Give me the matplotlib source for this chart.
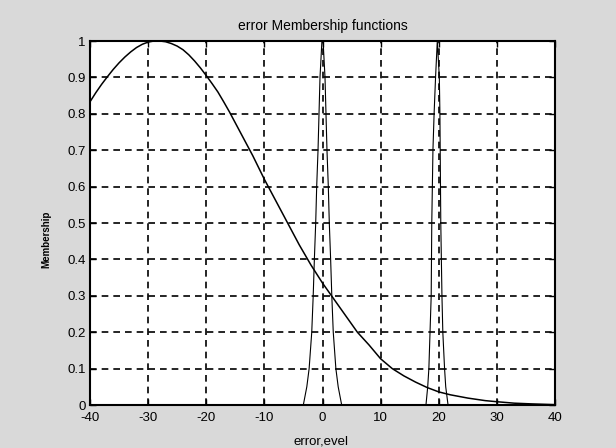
import matplotlib
matplotlib.use("Agg")
import matplotlib.pyplot as plt

plt.rcParams['font.family'] = ['Liberation Sans', 'DejaVu Sans']

# Wide membership function
wide_x = [-40, -39, -38, -37, -36, -35, -34, -33, -32, -31, -30, -29, -28, -27, -26,
          -25, -24, -23, -22, -21, -20, -19, -18, -17, -16, -14, -12,
          -10, -8, -6, -4, -2, 0, 2, 4, 6, 8, 10, 12, 14, 16, 18, 20, 22, 25, 28,
          30, 33, 36, 40]
wide_y = [0.833, 0.858, 0.881, 0.902, 0.922, 0.94, 0.956, 0.97, 0.982, 0.991, 0.997,
          1.0, 1.0, 0.998, 0.993, 0.986, 0.976, 0.962, 0.945, 0.926, 0.905, 0.883,
          0.86, 0.833, 0.805, 0.745, 0.685, 0.62, 0.56, 0.50, 0.44, 0.385, 0.335, 0.29,
          0.245, 0.20, 0.165, 0.127, 0.10, 0.08, 0.063, 0.048, 0.036, 0.028, 0.019,
          0.012, 0.009, 0.005, 0.003, 0.001]

# Narrow membership function near 0
peak1_x = [-40, -3.3, -2.7, -2.3, -1.85, -1.6, -1.4, -1.17, -1.0, -0.77, -0.6, -0.43,
           -0.1, 0.1, 0.43, 0.6, 0.77, 1.0, 1.17, 1.4, 1.6, 1.85, 2.3, 2.7, 3.3, 40]
peak1_y = [0, 0, 0.05, 0.1, 0.2, 0.3, 0.4, 0.5, 0.6, 0.7, 0.8, 0.9,
           1.0, 1.0, 0.9, 0.8, 0.7, 0.6, 0.5, 0.4, 0.3, 0.2, 0.1, 0.05, 0, 0]

# Narrow membership function near 20
peak2_x = [-40, 17.8, 18.1, 18.3, 18.5, 18.7, 18.8, 19.0, 19.2, 19.45, 19.75, 20.1,
           20.2, 20.25, 20.35, 20.55, 20.7, 21.0, 21.2, 21.6, 40]
peak2_y = [0, 0, 0.05, 0.1, 0.2, 0.3, 0.5, 0.7, 0.8, 0.9, 1.0, 0.9,
           0.8, 0.7, 0.5, 0.3, 0.2, 0.1, 0.05, 0, 0]

x_ticks = [-40, -30, -20, -10, 0, 10, 20, 30, 40]
y_ticks = [0, 0.1, 0.2, 0.3, 0.4, 0.5, 0.6, 0.7, 0.8, 0.9, 1]
y_tick_labels = ['0', '0.1', '0.2', '0.3', '0.4', '0.5', '0.6', '0.7', '0.8', '0.9', '1']

fig = plt.figure(figsize=(6.16, 4.48), dpi=100, facecolor='#d9d9d9')
ax = fig.add_axes([90 / 616, 43 / 448, 465 / 616, 364 / 448])
ax.set_facecolor('white')

ax.plot(wide_x, wide_y, color='black', lw=1.1)
ax.plot(peak1_x, peak1_y, color='black', lw=0.8)
ax.plot(peak2_x, peak2_y, color='black', lw=0.8)

ax.set_xlim(-40, 40)
ax.set_ylim(0, 1)
ax.set_xticks(x_ticks)
ax.set_xticklabels([str(t) for t in x_ticks])
ax.set_yticks(y_ticks)
ax.set_yticklabels(y_tick_labels)

ax.grid(True, color='black', linestyle=(0, (4, 3)), lw=1.2)
ax.tick_params(direction='in', length=4, width=1, top=True, right=True,
               labelsize=9.5, colors='black')
ax.tick_params(axis='x', pad=5)
ax.tick_params(axis='y', pad=3)
for s in ax.spines.values():
    s.set_linewidth(1.5)
    s.set_color('black')

ax.set_title('error Membership functions', fontsize=10, pad=8)
ax.set_xlabel('error,evel', fontsize=9.5)
ax.xaxis.set_label_coords(0.497, -0.085)
ax.set_ylabel('Membership', fontsize=7, fontweight='bold')
ax.yaxis.set_label_coords(-0.082, 0.455)

fig.savefig('out.png', dpi=100, facecolor=fig.get_facecolor())
